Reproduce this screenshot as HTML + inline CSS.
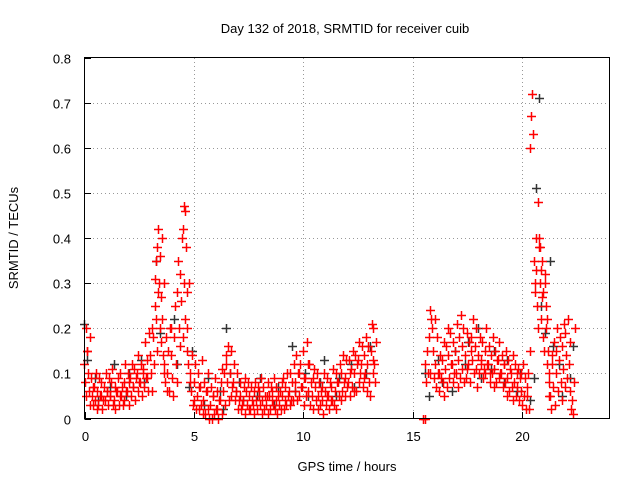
<!DOCTYPE html>
<html><head><meta charset="utf-8"><style>
body{margin:0;background:#fff}
svg text{font-family:"Liberation Sans",sans-serif;font-size:13px;fill:#000}
</style></head><body>
<svg id="chart" width="640" height="480">
<text x="345" y="33" text-anchor="middle">Day 132 of 2018, SRMTID for receiver cuib</text>
<text x="347" y="471" text-anchor="middle">GPS time / hours</text>
<text transform="translate(18,238) rotate(-90)" text-anchor="middle">SRMTID / TECUs</text>
<g id="grid"></g>
<g id="ticks"></g>
<g id="black"></g>
<g id="red"></g>
<rect x="84.5" y="57.5" width="525" height="361" fill="none" stroke="#000"/>
</svg>
<script>
const xTicks=[0,5,10,15,20];
const yTicks=[0,0.1,0.2,0.3,0.4,0.5,0.6,0.7,0.8];
const yLabels=["0","0.1","0.2","0.3","0.4","0.5","0.6","0.7","0.8"];
const redTimes=[0.05,0.2,0.35,0.5,0.65,0.8,0.95,1.1,1.25,1.4,1.55,1.7,1.85,2.0,2.15,2.3,2.45,2.6,2.75,2.9,3.05,3.2,3.3,3.4,3.5,3.6,3.7,3.85,4.0,4.15,4.3,4.45,4.55,4.65,4.75,4.9,5.05,5.2,5.35,5.5,5.65,5.8,5.95,6.1,6.25,6.4,6.55,6.7,6.85,7.0,7.15,7.3,7.45,7.6,7.75,7.9,8.05,8.2,8.35,8.5,8.65,8.8,8.95,9.1,9.25,9.4,9.55,9.7,9.85,10.0,10.15,10.3,10.45,10.6,10.75,10.9,11.05,11.2,11.35,11.5,11.65,11.8,11.95,12.1,12.25,12.4,12.55,12.7,12.85,13.0,13.15,13.25,15.55,15.65,15.8,15.95,16.1,16.25,16.4,16.55,16.7,16.85,17.0,17.15,17.3,17.45,17.6,17.75,17.9,18.05,18.2,18.35,18.5,18.65,18.8,18.95,19.1,19.25,19.4,19.55,19.7,19.85,20.0,20.15,20.3,20.45,20.6,20.7,20.8,20.9,21.0,21.1,21.2,21.3,21.45,21.6,21.75,21.9,22.05,22.2,22.35,22.5,22.6];
const redValues=[[0.12,0.08,0.05,0.2,0.15],[0.15,0.1,0.06,0.18,0.03],[0.09,0.05,0.03,0.07],[0.07,0.04,0.1,0.02],[0.06,0.03,0.09,0.05],[0.05,0.08,0.02,0.04],[0.07,0.04,0.1,0.06],[0.06,0.03,0.09,0.05],[0.05,0.08,0.11,0.03],[0.04,0.07,0.02,0.06],[0.06,0.09,0.03,0.05],[0.1,0.05,0.07,0.03],[0.08,0.04,0.12,0.06],[0.06,0.1,0.03,0.08],[0.09,0.05,0.12,0.07],[0.07,0.11,0.04,0.09],[0.1,0.06,0.14,0.08],[0.08,0.12,0.05,0.1],[0.11,0.07,0.17,0.09],[0.09,0.13,0.06,0.19],[0.14,0.1,0.2,0.06],[0.18,0.12,0.31,0.22],[0.25,0.35,0.15,0.28],[0.38,0.42,0.3,0.2],[0.36,0.27,0.17,0.4],[0.22,0.14,0.3,0.1],[0.12,0.08,0.18,0.06],[0.1,0.15,0.06,0.2],[0.14,0.2,0.09,0.05],[0.18,0.25,0.12,0.08],[0.28,0.35,0.2,0.16],[0.32,0.26,0.4,0.18],[0.42,0.47,0.3,0.22],[0.46,0.38,0.28,0.15],[0.2,0.12,0.3,0.08],[0.1,0.06,0.14,0.03],[0.08,0.04,0.12,0.02],[0.05,0.1,0.02,0.07],[0.07,0.03,0.13,0.01],[0.04,0.08,0.01,0.06],[0.06,0.02,0.1,0.0],[0.03,0.07,0.0,0.05],[0.05,0.01,0.09,0.02],[0.02,0.06,0.0,0.04],[0.04,0.08,0.01,0.11],[0.06,0.1,0.03,0.14],[0.12,0.08,0.16,0.04],[0.1,0.15,0.05,0.07],[0.08,0.12,0.04,0.06],[0.06,0.1,0.02,0.04],[0.05,0.08,0.02,0.03],[0.04,0.07,0.01,0.09],[0.06,0.03,0.08,0.02],[0.05,0.02,0.07,0.04],[0.03,0.06,0.01,0.08],[0.04,0.02,0.07,0.05],[0.06,0.03,0.09,0.01],[0.04,0.07,0.02,0.05],[0.03,0.05,0.01,0.08],[0.05,0.02,0.07,0.04],[0.06,0.03,0.09,0.02],[0.04,0.07,0.01,0.05],[0.03,0.06,0.02,0.08],[0.05,0.09,0.02,0.04],[0.07,0.03,0.1,0.05],[0.06,0.1,0.03,0.04],[0.08,0.04,0.12,0.06],[0.08,0.14,0.04,0.1],[0.1,0.05,0.12,0.07],[0.07,0.15,0.03,0.09],[0.09,0.05,0.17,0.12],[0.06,0.12,0.03,0.08],[0.05,0.09,0.02,0.11],[0.07,0.04,0.1,0.02],[0.05,0.08,0.03,0.06],[0.04,0.07,0.01,0.1],[0.06,0.03,0.09,0.05],[0.05,0.02,0.08,0.04],[0.07,0.04,0.11,0.03],[0.06,0.1,0.02,0.08],[0.08,0.05,0.12,0.04],[0.1,0.06,0.14,0.08],[0.09,0.05,0.13,0.07],[0.08,0.13,0.05,0.1],[0.11,0.07,0.15,0.06],[0.1,0.14,0.06,0.12],[0.13,0.08,0.17,0.1],[0.12,0.16,0.07,0.09],[0.14,0.1,0.18,0.06],[0.12,0.16,0.08,0.05],[0.15,0.21,0.1,0.13],[0.2,0.12,0.08,0.17],[0.0,0.0],[0.12,0.08,0.15,0.1],[0.18,0.24,0.1,0.22],[0.2,0.15,0.09,0.22],[0.12,0.07,0.18,0.1],[0.1,0.06,0.14,0.09],[0.13,0.08,0.17,0.05],[0.11,0.16,0.07,0.2],[0.14,0.09,0.19,0.12],[0.12,0.17,0.08,0.1],[0.15,0.1,0.21,0.07],[0.13,0.18,0.09,0.23],[0.16,0.11,0.2,0.08],[0.14,0.09,0.19,0.11],[0.12,0.17,0.08,0.15],[0.18,0.13,0.22,0.1],[0.16,0.11,0.2,0.07],[0.14,0.1,0.18,0.12],[0.13,0.17,0.09,0.11],[0.15,0.1,0.2,0.12],[0.12,0.16,0.08,0.1],[0.14,0.1,0.18,0.07],[0.11,0.15,0.08,0.13],[0.13,0.09,0.17,0.1],[0.1,0.14,0.07,0.12],[0.12,0.08,0.15,0.05],[0.09,0.13,0.06,0.11],[0.1,0.07,0.14,0.04],[0.08,0.12,0.05,0.1],[0.07,0.11,0.04,0.09],[0.06,0.1,0.03,0.12],[0.05,0.09,0.02,0.07],[0.05,0.1,0.02,0.15],[0.6,0.67,0.72,0.63],[0.35,0.3,0.28,0.4],[0.33,0.25,0.2,0.38],[0.48,0.4,0.3,0.22],[0.38,0.33,0.27,0.18],[0.35,0.28,0.15,0.32],[0.3,0.25,0.2,0.12],[0.22,0.15,0.08,0.05],[0.1,0.05,0.02,0.14],[0.12,0.07,0.17,0.03],[0.15,0.1,0.2,0.06],[0.13,0.18,0.08,0.04],[0.16,0.11,0.21,0.07],[0.19,0.14,0.09,0.22],[0.12,0.06,0.17,0.02],[0.04,0.01,0.08,0.2]];
const blackTimes=[0.1,0.6,1.3,2.0,2.7,3.4,4.2,4.9,5.6,6.3,6.6,7.2,8.0,8.8,9.6,10.2,10.9,11.6,12.3,13.0,15.7,16.3,16.9,17.5,18.1,18.7,19.3,19.9,20.5,20.75,21.0,21.4,21.8,22.3];
const blackValues=[[0.21,0.13],[0.09,0.04],[0.07,0.12],[0.05,0.1],[0.13,0.08],[0.35,0.19],[0.22,0.12],[0.07,0.15],[0.03,0.09],[0.06,0.02],[0.2,0.1],[0.08,0.04],[0.05,0.09],[0.03,0.07],[0.16,0.06],[0.1,0.05],[0.08,0.13],[0.05,0.09],[0.12,0.07],[0.1,0.16],[0.1,0.05],[0.13,0.08],[0.06,0.15],[0.12,0.17],[0.2,0.09],[0.11,0.15],[0.08,0.13],[0.06,0.1],[0.04,0.09],[0.51,0.71],[0.25,0.19],[0.35,0.16],[0.12,0.05],[0.09,0.16]];
const X=t=>84.5+t*21.875, Y=v=>418.5-v*451.25;
const NS="http://www.w3.org/2000/svg";
function mk(tag,attrs,parent){const e=document.createElementNS(NS,tag);for(const k in attrs)e.setAttribute(k,attrs[k]);parent.appendChild(e);return e;}
const grid=document.getElementById('grid'),ticks=document.getElementById('ticks');
xTicks.forEach(t=>{const x=Math.round(X(t))+0.5;
 if(t>0){const g=mk('line',{x1:x,x2:x,y1:58,y2:418,stroke:'#999','stroke-dasharray':'1,3'},grid);
 
 }
 mk('line',{x1:x,x2:x,y1:418.5,y2:412,stroke:'#000'},ticks);
 const l=mk('text',{x:x,y:441,'text-anchor':'middle'},ticks);l.textContent=String(t);
 
 });
yTicks.forEach((v,i)=>{const y=Math.round(Y(v))+0.5;
 if(v>0&&v<0.8){const g=mk('line',{x1:85,x2:609,y1:y,y2:y,stroke:'#999','stroke-dasharray':'1,3'},grid);
 
 }
 mk('line',{x1:84.5,x2:91,y1:y,y2:y,stroke:'#000'},ticks);
 const l=mk('text',{x:71,y:y+5,'text-anchor':'end'},ticks);l.textContent=yLabels[i];
 
 });
function plot(times,vals,color,g,step){times.forEach((t,i)=>{const n=vals[i].length;vals[i].forEach((v,j)=>{
 const tt=t+step*(j/n-0.4);
 const x=Math.round(X(tt))+0.5,y=Math.round(Y(v))+0.5;
 const p=mk('path',{d:'M'+(x-4.5)+' '+y+'H'+(x+4.5)+'M'+x+' '+(y-4.5)+'V'+(y+4.5),stroke:color,'stroke-width':1.5,fill:'none'},g);
 
 });});}
plot(blackTimes,blackValues,'#333',document.getElementById('black'),0.3);
plot(redTimes,redValues,'#ff0000',document.getElementById('red'),0.16);
</script>
</body></html>
